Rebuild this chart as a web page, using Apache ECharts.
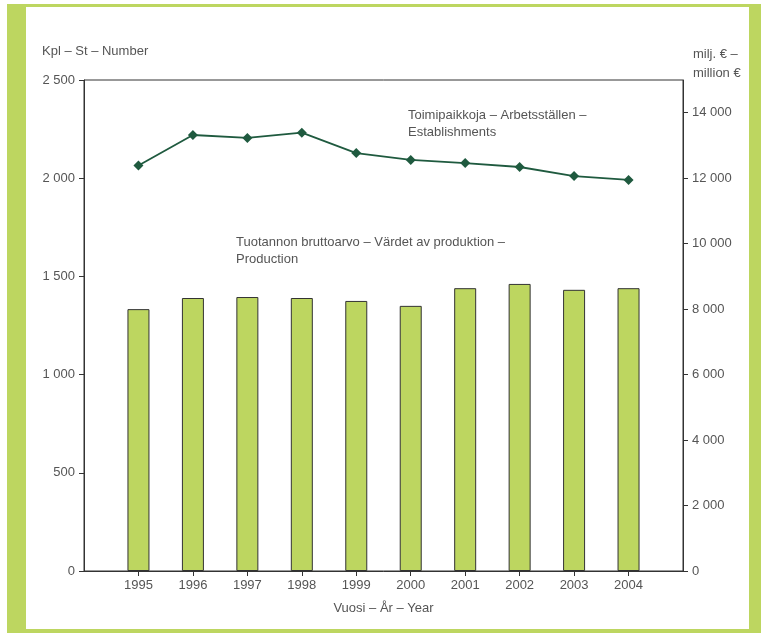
<!DOCTYPE html>
<html>
<head>
<meta charset="utf-8">
<script src="https://cdn.jsdelivr.net/npm/echarts@6/dist/echarts.min.js"></script>
<style>
  html, body { margin: 0; padding: 0; background: #fff; }
  #chart { width: 761px; height: 633px; }
</style>
</head>
<body>
<div id="chart"></div>
<script>
// Years on the category axis
const years = ['1995', '1996', '1997', '1998', '1999', '2000', '2001', '2002', '2003', '2004'];
// Establishments (count, left axis)
const establishments = [2065, 2220, 2205, 2232, 2128, 2093, 2077, 2057, 2011, 1991];
// Gross value of production (million €, right axis)
const production = [8000, 8340, 8370, 8340, 8250, 8100, 8640, 8770, 8590, 8640];

const FONT = '"Liberation Sans", Arial, sans-serif';
const TXT = '#555';
const GREEN = '#bdd660';

const fmt = v => String(v).replace(/\B(?=(\d{3})+(?!\d))/g, '\u00a0');

// one empty slot at each end of the axis leaves a half-gap before 1995 and after 2004
const cats = [''].concat(years, ['']);
const pad = arr => [null].concat(arr, [null]);
const inner = i => i > 0 && i < cats.length - 1;

const chart = echarts.init(document.getElementById('chart'), null, { renderer: 'canvas' });

chart.setOption({
  animation: false,
  backgroundColor: '#fff',
  grid: { left: 84, right: 78, top: 80, bottom: 62, show: true, borderColor: '#333', borderWidth: 1 },
  xAxis: {
    type: 'category',
    data: cats,
    boundaryGap: false,
    axisLine: { lineStyle: { color: '#333', width: 1 } },
    axisTick: { length: 5, interval: inner, lineStyle: { color: '#333' } },
    axisLabel: { color: TXT, fontFamily: FONT, fontSize: 13, margin: 8, interval: 0 },
    name: 'Vuosi – År – Year',
    nameLocation: 'middle',
    nameGap: 31,
    nameTextStyle: { color: TXT, fontFamily: FONT, fontSize: 13 }
  },
  yAxis: [
    {
      type: 'value', min: 0, max: 2500, interval: 500,
      axisLine: { show: true, lineStyle: { color: '#333' } },
      axisTick: { show: true, length: 5, lineStyle: { color: '#333' } },
      splitLine: { show: false },
      axisLabel: { color: TXT, fontFamily: FONT, fontSize: 13, margin: 9, formatter: fmt }
    },
    {
      type: 'value', min: 0, max: 15000, interval: 2000,
      axisLine: { show: true, lineStyle: { color: '#333' } },
      axisTick: { show: true, length: 5, lineStyle: { color: '#333' } },
      splitLine: { show: false },
      axisLabel: { color: TXT, fontFamily: FONT, fontSize: 13, margin: 9, formatter: fmt, showMaxLabel: false }
    }
  ],
  series: [
    {
      name: 'Tuotannon bruttoarvo',
      type: 'bar',
      yAxisIndex: 1,
      data: pad(production),
      barWidth: 22,
      itemStyle: { color: GREEN, borderColor: '#333', borderWidth: 1 },
      z: 2
    },
    {
      name: 'Toimipaikkoja',
      type: 'line',
      yAxisIndex: 0,
      data: pad(establishments),
      symbol: 'diamond',
      symbolSize: 10,
      lineStyle: { color: '#1f5a3f', width: 1.8 },
      itemStyle: { color: '#1f5a3f' },
      z: 3
    }
  ],
  graphic: [
    // green frame
    { type: 'rect', shape: { x: 7, y: 4, width: 754, height: 629 }, style: { fill: GREEN }, z: -10, silent: true },
    { type: 'rect', shape: { x: 26, y: 7, width: 723, height: 622 }, style: { fill: '#fff' }, z: -9, silent: true },
    { type: 'text', left: 42, top: 45, style: { text: 'Kpl – St – Number', fill: TXT, font: '13px ' + FONT } },
    { type: 'text', left: 693, top: 45, style: { text: 'milj. € –\nmillion €', fill: TXT, font: '13px ' + FONT, lineHeight: 19 } },
    { type: 'text', left: 408, top: 107, style: { text: 'Toimipaikkoja – Arbetsställen –\nEstablishments', fill: TXT, font: '13px ' + FONT, lineHeight: 17 } },
    { type: 'text', left: 236, top: 234, style: { text: 'Tuotannon bruttoarvo – Värdet av produktion –\nProduction', fill: TXT, font: '13px ' + FONT, lineHeight: 17 } }
  ]
});
</script>
</body>
</html>
